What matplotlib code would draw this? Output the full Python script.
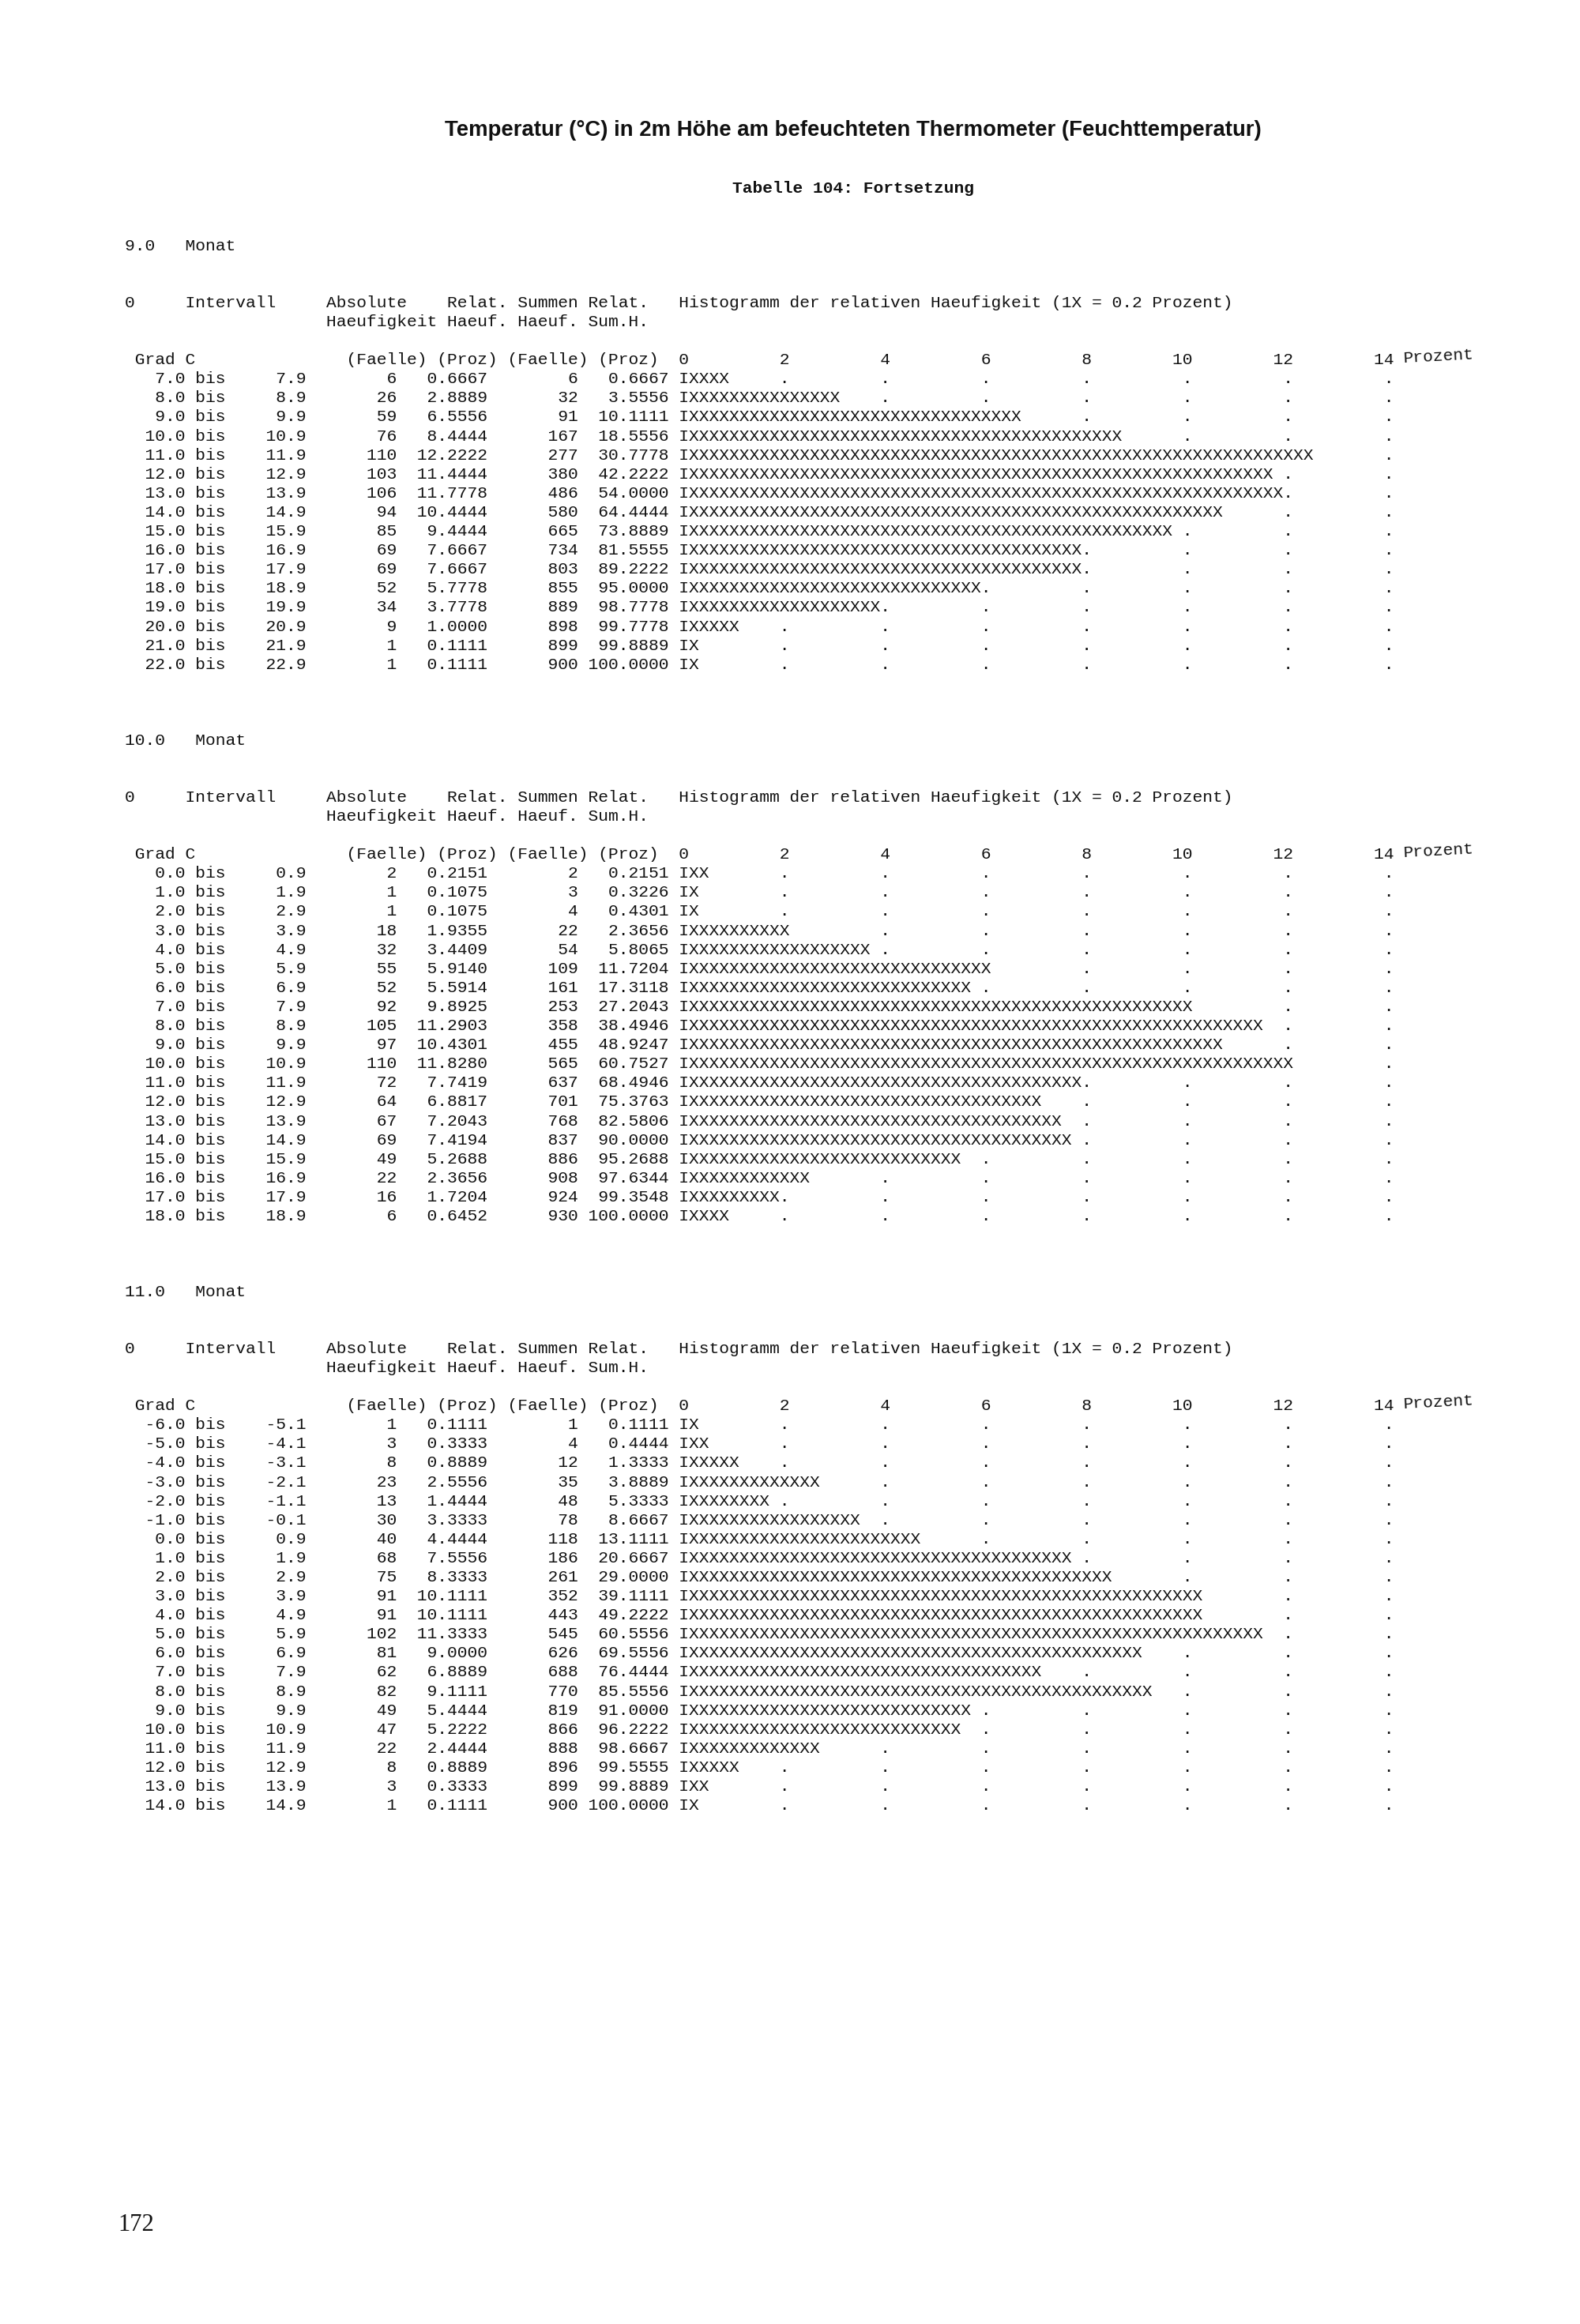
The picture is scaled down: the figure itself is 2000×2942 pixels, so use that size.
import math

import matplotlib
matplotlib.use("Agg")
import matplotlib.pyplot as plt

TITLE = "Temperatur (°C) in 2m Höhe am befeuchteten Thermometer (Feuchttemperatur)"
SUBTITLE = "Tabelle 104: Fortsetzung"
PAGE_NO = "172"
HIST_LABEL = "Histogramm der relativen Haeufigkeit (1X = 0.2 Prozent)"
TICK_VALUES = [0, 2, 4, 6, 8, 10, 12, 14]
X_STEP = 0.2  # 1X = 0.2 Prozent

MONTHS = [9.0, 10.0, 11.0]

# Monat 9
LO_9 = [7.0, 8.0, 9.0, 10.0, 11.0, 12.0, 13.0, 14.0, 15.0, 16.0, 17.0, 18.0, 19.0, 20.0, 21.0, 22.0]
ABS_9 = [6, 26, 59, 76, 110, 103, 106, 94, 85, 69, 69, 52, 34, 9, 1, 1]
REL_9 = [0.6667, 2.8889, 6.5556, 8.4444, 12.2222, 11.4444, 11.7778, 10.4444, 9.4444, 7.6667,
         7.6667, 5.7778, 3.7778, 1.0000, 0.1111, 0.1111]
CUM_9 = [6, 32, 91, 167, 277, 380, 486, 580, 665, 734, 803, 855, 889, 898, 899, 900]
SUMREL_9 = [0.6667, 3.5556, 10.1111, 18.5556, 30.7778, 42.2222, 54.0000, 64.4444, 73.8889, 81.5555,
            89.2222, 95.0000, 98.7778, 99.7778, 99.8889, 100.0000]

# Monat 10
LO_10 = [0.0, 1.0, 2.0, 3.0, 4.0, 5.0, 6.0, 7.0, 8.0, 9.0, 10.0, 11.0, 12.0, 13.0, 14.0, 15.0,
         16.0, 17.0, 18.0]
ABS_10 = [2, 1, 1, 18, 32, 55, 52, 92, 105, 97, 110, 72, 64, 67, 69, 49, 22, 16, 6]
REL_10 = [0.2151, 0.1075, 0.1075, 1.9355, 3.4409, 5.9140, 5.5914, 9.8925, 11.2903, 10.4301,
          11.8280, 7.7419, 6.8817, 7.2043, 7.4194, 5.2688, 2.3656, 1.7204, 0.6452]
CUM_10 = [2, 3, 4, 22, 54, 109, 161, 253, 358, 455, 565, 637, 701, 768, 837, 886, 908, 924, 930]
SUMREL_10 = [0.2151, 0.3226, 0.4301, 2.3656, 5.8065, 11.7204, 17.3118, 27.2043, 38.4946, 48.9247,
             60.7527, 68.4946, 75.3763, 82.5806, 90.0000, 95.2688, 97.6344, 99.3548, 100.0000]

# Monat 11
LO_11 = [-6.0, -5.0, -4.0, -3.0, -2.0, -1.0, 0.0, 1.0, 2.0, 3.0, 4.0, 5.0, 6.0, 7.0, 8.0, 9.0,
         10.0, 11.0, 12.0, 13.0, 14.0]
ABS_11 = [1, 3, 8, 23, 13, 30, 40, 68, 75, 91, 91, 102, 81, 62, 82, 49, 47, 22, 8, 3, 1]
REL_11 = [0.1111, 0.3333, 0.8889, 2.5556, 1.4444, 3.3333, 4.4444, 7.5556, 8.3333, 10.1111,
          10.1111, 11.3333, 9.0000, 6.8889, 9.1111, 5.4444, 5.2222, 2.4444, 0.8889, 0.3333, 0.1111]
CUM_11 = [1, 4, 12, 35, 48, 78, 118, 186, 261, 352, 443, 545, 626, 688, 770, 819, 866, 888, 896,
          899, 900]
SUMREL_11 = [0.1111, 0.4444, 1.3333, 3.8889, 5.3333, 8.6667, 13.1111, 20.6667, 29.0000, 39.1111,
             49.2222, 60.5556, 69.5556, 76.4444, 85.5556, 91.0000, 96.2222, 98.6667, 99.5555,
             99.8889, 100.0000]

BLOCKS = [
    (LO_9, ABS_9, REL_9, CUM_9, SUMREL_9),
    (LO_10, ABS_10, REL_10, CUM_10, SUMREL_10),
    (LO_11, ABS_11, REL_11, CUM_11, SUMREL_11),
]

# Seitenlayout (Pixel auf der 2000x2942 Seite)
W, H = 2000, 2942
X0 = 158            # linke Kante der Spalte 0
PITCH = 12.74       # Zeichenbreite der Schreibmaschinenschrift
LINE = 24.1         # Zeilenabstand
MONAT_Y = [311, 937, 1635]
MONO = "Liberation Mono"
MONO_SIZE = PITCH / 0.6 * 0.72
INK = "#111111"
HIST_COL = 55
HIST_WIDTH = 71


def hist_string(rel):
    # Balken aus X plus Punktraster an den Skalenstellen
    n = math.ceil(round(rel / X_STEP, 6))
    chars = [" "] * HIST_WIDTH
    for v in TICK_VALUES[1:]:
        chars[int(v / X_STEP)] = "."
    chars[0] = "I"
    for i in range(1, n + 1):
        chars[i] = "X"
    return "".join(chars).rstrip()


def tick_string():
    chars = [" "] * HIST_WIDTH
    for v in TICK_VALUES:
        lab = str(v)
        end = int(v / X_STEP)
        start = end - len(lab) + 1
        for j, c in enumerate(lab):
            chars[start + j] = c
    return "".join(chars).rstrip()


def row_string(lo, n_abs, rel, cum, sumrel):
    return (f"{lo:6.1f} bis {lo + 0.9:7.1f}{n_abs:9d}{rel:9.4f}{cum:9d}{sumrel:9.4f} "
            + hist_string(rel))


def mono(ax, col, y, s, **kw):
    ax.text(X0 + col * PITCH, y, s, family=MONO, fontsize=MONO_SIZE, color=INK,
            ha="left", va="center", **kw)


def draw_block(ax, month, y0, block):
    lo, n_abs, rel, cum, sumrel = block
    mono(ax, 0, y0, f"{month:.1f}   Monat")
    head1 = ("0     Intervall     Absolute    Relat. Summen Relat.   " + HIST_LABEL)
    head2 = " " * 20 + "Haeufigkeit Haeuf. Haeuf. Sum.H."
    head3 = " Grad C".ljust(22) + "(Faelle) (Proz) (Faelle) (Proz)  " + tick_string()
    mono(ax, 0, y0 + 3 * LINE, head1)
    mono(ax, 0, y0 + 4 * LINE, head2)
    mono(ax, 0, y0 + 6 * LINE, head3)
    mono(ax, HIST_COL + HIST_WIDTH + 1, y0 + 6 * LINE - 4, "Prozent", rotation=3)
    for i in range(len(lo)):
        mono(ax, 0, y0 + (7 + i) * LINE, row_string(lo[i], n_abs[i], rel[i], cum[i], sumrel[i]))


def main():
    fig = plt.figure(figsize=(W / 100, H / 100), dpi=100)
    ax = fig.add_axes([0, 0, 1, 1])
    ax.set_xlim(0, W)
    ax.set_ylim(H, 0)
    ax.axis("off")

    title = ax.text(1080, 165, TITLE, family=["Liberation Sans Narrow", "Liberation Sans"],
                    fontweight="bold", fontsize=20, color=INK, ha="center", va="center")
    fig.canvas.draw()
    w = title.get_window_extent().width
    title.set_fontsize(20 * 1031 / w)

    ax.text(1080, 238, SUBTITLE, family=MONO, fontweight="bold", fontsize=MONO_SIZE,
            color=INK, ha="center", va="center")

    for month, y0, block in zip(MONTHS, MONAT_Y, BLOCKS):
        draw_block(ax, month, y0, block)

    ax.text(149, 2817, PAGE_NO, family="Liberation Serif", fontsize=22, color=INK,
            ha="left", va="center")

    fig.savefig("out.png", dpi=100, facecolor="white")
    plt.close(fig)


if __name__ == "__main__":
    main()
